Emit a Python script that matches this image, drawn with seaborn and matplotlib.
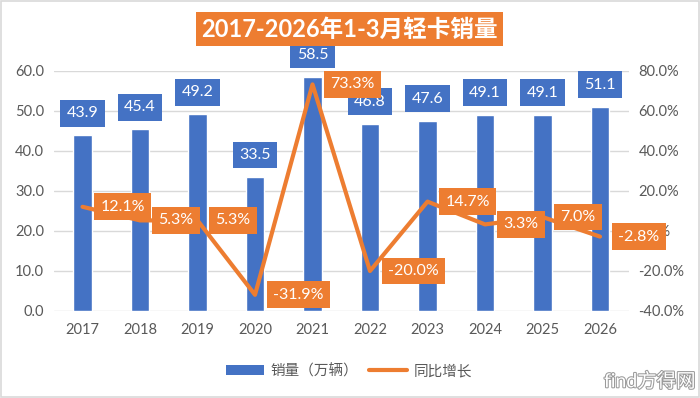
import matplotlib
matplotlib.use("Agg")
import matplotlib.pyplot as plt
import matplotlib.patheffects as pe
from matplotlib.patches import Patch, Rectangle
from matplotlib.lines import Line2D
from matplotlib.ticker import FuncFormatter
import seaborn as sns
import numpy as np

years = ["2017", "2018", "2019", "2020", "2021", "2022", "2023", "2024", "2025", "2026"]
sales = [43.9, 45.4, 49.2, 33.5, 58.5, 46.8, 47.6, 49.1, 49.1, 51.1]
growth = [12.1, 5.3, 5.3, -31.9, 73.3, -20.0, 14.7, 3.3, 7.0, -2.8]
title = "2017-2026年1-3月轻卡销量"
legend_labels = ["销量（万辆）", "同比增长"]

BLUE = "#4472C4"
ORANGE = "#ED7D31"
GRAY = "#595959"
GRID = "#D9D9D9"

sns.set_theme(style="white")
plt.rcParams["font.family"] = ["Lato", "Noto Sans CJK SC", "DejaVu Sans"]

fig = plt.figure(figsize=(7.0, 3.98), dpi=100)
ax = fig.add_axes([53.75 / 700, 87 / 398, 575 / 700, 240 / 398])

sns.barplot(x=years, y=sales, ax=ax, color=BLUE, saturation=1, width=0.32, zorder=2)
ax.set_xlim(-0.5, len(years) - 0.5)
ax.set_ylim(0, 60)
ax.set_yticks(np.arange(0, 61, 10))
ax.yaxis.set_major_formatter(FuncFormatter(lambda v, p: f"{v:.1f}"))
ax.grid(axis="y", color=GRID, linewidth=1)
ax.grid(axis="x", visible=False)
ax.set_axisbelow(True)
ax.set_xlabel("")
ax.set_ylabel("")
for s in ax.spines.values():
    s.set_visible(False)
ax.tick_params(axis="both", length=0, labelsize=10.5, labelcolor=GRAY)
ax.tick_params(axis="y", pad=7)
ax.tick_params(axis="x", pad=9)

for i, v in enumerate(sales):
    ax.annotate(f"{v:.1f}", (i, v), xytext=(0, 22), textcoords="offset pixels",
                ha="center", va="center", color="white", fontsize=11.5, zorder=5,
                bbox=dict(boxstyle="square,pad=0.4", fc=BLUE, ec="none"))

ax2 = ax.twinx()
sns.pointplot(x=years, y=growth, ax=ax2, color=ORANGE, markers="", linewidth=3)
ax2.set_xlim(-0.5, len(years) - 0.5)
ax2.set_ylim(-40, 80)
ax2.set_yticks(np.arange(-40, 81, 20))
ax2.yaxis.set_major_formatter(FuncFormatter(lambda v, p: f"{v:.1f}%"))
ax2.set_xlabel("")
ax2.set_ylabel("")
ax2.grid(False)
for s in ax2.spines.values():
    s.set_visible(False)
ax2.tick_params(axis="both", length=0, labelsize=10.5, labelcolor=GRAY)
ax2.tick_params(axis="y", pad=7)

for i, g in enumerate(growth):
    ax2.annotate(f"{g:.1f}%", (i, g), xytext=(18, 0), textcoords="offset pixels",
                 ha="left", va="center", color="white", fontsize=11.5, zorder=6,
                 bbox=dict(boxstyle="square,pad=0.4", fc=ORANGE, ec="none"))

fig.text(0.4986, 1 - 29 / 398, title, ha="center", va="center", color="white",
         fontsize=17, fontweight="bold",
         bbox=dict(boxstyle="square,pad=0.22", fc=ORANGE, ec="none"))

handles = [Patch(facecolor=BLUE, edgecolor="none"),
           Line2D([0], [0], color=ORANGE, linewidth=3)]
fig.legend(handles, legend_labels, loc="center", bbox_to_anchor=(0.4986, 1 - 371 / 398),
           ncol=2, frameon=False, fontsize=10.5, labelcolor=GRAY,
           handlelength=2.6, handleheight=0.7, handletextpad=0.4, columnspacing=0.8)

fig.text(650 / 700, 1 - 381 / 398, "find方得网", ha="center", va="center",
         fontsize=14, color="white",
         path_effects=[pe.withStroke(linewidth=1.5, foreground="#9a9a9a")])

fig.patches.append(Rectangle((0.001, 0.002), 0.998, 0.996, transform=fig.transFigure,
                             fill=False, edgecolor=GRID, linewidth=1.2))

fig.savefig("out.png", dpi=100)
